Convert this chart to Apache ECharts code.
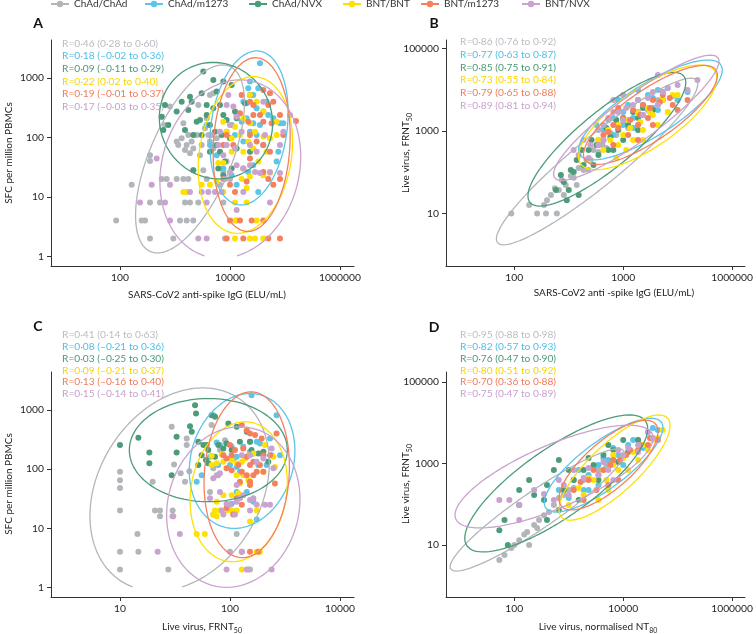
<!DOCTYPE html>
<html><head><meta charset="utf-8">
<script src="https://cdn.jsdelivr.net/npm/echarts@6/dist/echarts.min.js"></script>
<style>html,body{margin:0;padding:0;background:#fff}#c{width:756px;height:634px}</style>
</head><body><div id="c"></div>
<script>
const groups = ['ChAd/ChAd','ChAd/m1273','ChAd/NVX','BNT/BNT','BNT/m1273','BNT/NVX'];
const colors = ['#b2b6bb','#5cc5e8','#4c9c7a','#ffe100','#f5805e','#caa2cf'];
const textColors = ['#b9bdc2','#4fc0e6','#4c9a78','#f6d600','#f27b5c','#c7a3cc'];

// ---------- Panel A: IgG (x) vs SFC per million PBMCs (y)
const A_ChAdChAd = [[573,222],[658,161],[811,328],[1072,85],[1148,74],[1419,172],[1322,96],[1520,61],[1630,74],[1747,109],[1874,54],[2009,85],[2153,65],[2477,109],[2655,349],[2851,50],[3055,74],[3508,142],[3767,208],[4036,109],[4325,85],[4977,65],[5728,96],[3273,28],[2153,28],[1747,20],[1419,20],[1072,20],[705,20],[573,20],[351,50],[351,40],[163,16],[3767,20],[6577,16],[7568,26],[8690,39],[10000,20],[85,4],[248,4],[285,4],[351,8],[351,2],[533,8],[933,2],[1233,4],[1630,4],[2153,4],[1520,8],[1874,8],[2655,8],[7568,8],[8110,2],[13213,4],[4325,514],[4977,548]];
const A_ChAdm1273 = [[35100,1753],[23100,862],[21500,666],[26500,515],[32700,666],[17500,397],[30500,307],[40300,270],[49700,237],[61300,208],[81100,172],[13200,237],[16300,183],[20100,208],[26500,172],[35100,161],[23100,124],[10700,161],[8690,124],[12300,109],[17500,85],[30500,109],[40300,74],[75700,57],[26500,34],[21500,26],[32700,12],[13200,16],[10700,23],[7570,30],[5730,50],[4330,74],[3770,161],[70500,39],[93300,172],[46400,397],[20100,373]];
const A_ChAdNVX = [[658,349],[614,133],[757,161],[1072,270],[1747,288],[2009,397],[1874,482],[3273,1270],[4977,920],[5728,586],[7568,862],[10720,758],[3767,349],[2851,196],[2477,183],[2153,109],[1520,133],[3055,109],[4325,161],[4977,307],[6577,349],[7568,237],[8690,196],[12330,270],[10000,96],[5728,74],[6577,57],[8110,39],[4325,57],[2153,28],[6137,30],[7568,23],[10720,30],[13210,208],[18730,373],[23100,515],[573,222],[1322,397],[3055,549],[3767,237],[5333,124],[7050,109],[13210,65],[23100,57]];
const A_BNTBNT = [[23100,514],[30540,397],[40360,270],[17470,208],[12330,151],[7568,183],[8690,124],[10720,96],[15200,109],[21540,85],[28500,124],[40360,103],[53330,96],[70460,109],[17470,57],[26540,65],[32740,39],[46420,57],[6140,37],[7568,37],[16300,20],[23100,22],[40360,23],[3055,16],[4325,16],[1419,12],[1630,12],[12330,8],[20090,8],[12330,4],[30540,4],[12330,2],[23100,2],[28500,2],[40360,2],[5728,18],[7568,12],[20090,14],[53330,25],[10720,57],[70460,183],[23100,172]];
const A_BNTm1273 = [[40360,625],[53330,549],[61380,397],[49740,349],[35100,237],[26570,237],[21540,183],[40360,183],[57240,172],[81140,237],[158500,188],[23100,109],[30540,85],[40360,74],[8690,109],[7568,74],[11510,74],[23100,44],[53330,57],[17470,30],[40360,26],[49740,20],[81140,20],[61380,16],[10000,16],[12330,12],[20090,18],[7568,20],[10000,4],[15200,4],[24770,4],[40360,4],[8690,2],[17470,2],[49740,2],[81140,2],[26570,349],[15200,253],[93300,109],[23100,397],[16300,514]];
const A_BNTNVX = [[464,44],[377,16],[658,8],[231,8],[811,4],[2655,2],[3767,2],[3767,8],[4036,12],[5333,12],[7050,12],[3055,12],[8110,20],[10000,26],[13210,34],[17470,30],[23100,34],[28500,26],[35100,25],[53330,26],[81140,25],[123300,237],[93300,124],[8690,349],[11510,328],[13210,222],[10000,161],[16300,124],[8690,74],[12330,65],[23100,74],[30540,57],[43250,109],[6577,124],[7568,50],[6137,74],[4640,109],[9330,514],[40360,397],[17470,12],[53330,8],[13210,6],[811,16],[1874,12],[81140,74]];

// ---------- Panel B: IgG (x) vs FRNT50 (y)
const B_ChAdChAd = [[88,10],[262,10],[382,10],[605,10],[398,21],[556,41],[746,65],[1090,81],[1520,127],[2120,198],[2850,346],[4150,458],[5800,895],[10000,1560],[18700,2890],[43300,5650],[187,16],[811,28],[351,16],[471,28],[658,37],[881,49],[1233,73],[1875,114],[2512,198],[3510,310],[4910,387],[7470,800],[12300,1180],[28500,3230],[1400,49],[2310,114]];
const B_ChAdm1273 = [[5330,1850],[8110,3230],[12300,4270],[18700,5650],[28500,7460],[43300,9860],[65800,11000],[100000,5650],[23100,2440],[10000,1400],[6580,800],[15200,1180],[35100,3610],[152000,8810],[3230,1400],[4330,1060],[6580,2070],[10000,2890],[15200,2070],[23100,4270],[35100,6310],[53300,8810],[81100,7050],[43300,3230],[18700,9860],[3510,605],[8110,5650]];
const B_ChAdNVX = [[580,37],[811,58],[1090,114],[1400,198],[1870,150],[2310,346],[3230,458],[4330,605],[5800,716],[8110,1060],[12300,1400],[18700,2070],[35100,3230],[1520,28],[920,21],[3510,262],[6580,346],[716,86],[1233,101],[1720,346],[2620,605],[4910,1180],[7470,1850],[10000,2070],[15200,2890],[23100,3610],[53300,5650],[2850,150],[5330,346],[1000,37],[10000,605],[18700,1060]];
const B_BNTBNT = [[3510,605],[5330,1060],[8110,1400],[12300,1850],[18700,2730],[28500,3610],[53300,5650],[81100,7460],[23100,1060],[43300,1400],[8110,458],[15200,605],[35100,2440],[7460,221],[4330,346],[5800,605],[10000,800],[13400,1180],[20400,1650],[31000,2890],[43300,4270],[65800,2890],[11350,346],[23100,605],[2310,198],[100000,7460]];
const B_BNTm1273 = [[4330,800],[6580,1400],[10000,2070],[15200,3230],[23100,4270],[35100,5650],[53300,7460],[18700,1400],[28500,2070],[81100,4270],[12300,800],[152000,5650],[8110,3610],[3510,458],[5330,946],[8110,1180],[13400,1850],[20400,2440],[31000,3610],[47100,5050],[71600,6310],[35100,1400],[6580,458],[100000,3230],[18700,605]];
const B_BNTNVX = [[1230,346],[1870,605],[3510,1060],[5330,2070],[8110,2890],[15200,4270],[28500,6310],[53300,8810],[100000,13000],[3510,458],[2310,221],[43300,22800],[152000,9860],[6580,5650],[10000,7460],[1520,262],[2510,458],[4330,1400],[6580,2890],[11350,3610],[18700,5650],[35100,8810],[65800,11000],[4330,605],[10000,1850],[23100,2440],[43300,4270],[231000,17200]];

// ---------- Panel C: FRNT50 (x) vs SFC per million PBMCs (y)
const C_ChAdChAd = [[10,90],[10,65],[10,48],[10,20],[10,4],[10,2],[14.4,8],[14.7,4],[19.8,61],[20.8,20],[23.1,20],[23.1,16],[27.5,2],[29.5,519],[30.1,20],[30,16],[31,120],[35.6,85],[39,61],[40.4,330],[42.7,92],[65.8,41],[70.5,103],[75.7,79],[81.1,210],[90.1,309],[115,8],[147,2],[152,2],[68,555],[40.4,255]];
const C_ChAdm1273 = [[157,1782],[265,818],[70.5,818],[75.7,282],[81.1,255],[93,272],[103.5,238],[107,151],[115,162],[132,238],[152,290],[175,290],[187,272],[201,172],[231,330],[239,172],[285,172],[152,196],[163,184],[115,109],[65.8,162],[55.2,79],[49.8,61],[115,41],[142,41],[163,28],[70.5,17],[175,14],[103.5,26],[78,117],[100,117],[215,117],[181,117],[123,90],[87,172]];
const C_ChAdNVX = [[10,255],[14.7,339],[18.5,191],[18.5,125],[32.7,191],[32.7,352],[29.5,79],[43.3,533],[48.1,1207],[49.1,873],[44.9,428],[51.5,290],[57.3,255],[61.4,255],[55.2,172],[60.5,142],[63.5,125],[68.1,818],[73.1,767],[78.3,255],[96.6,591],[103.5,210],[115,519],[142,428],[152,290],[157,210],[201,196],[223,133],[181,184],[123,290],[93,272],[87,223],[73,162],[63.5,210],[51.5,117]];
const C_BNTBNT = [[84,177],[68,168],[68,117],[75.7,125],[87,133],[103.5,142],[115,125],[128,133],[137,151],[147,172],[163,184],[208,255],[248,162],[256,109],[152,61],[147,65],[123,57],[119,39],[103.5,36],[87,36],[75.7,28],[73,20],[81,20],[93,20],[103.5,20],[115,20],[70.5,17],[75.7,16],[152,13],[49.8,8],[59,8],[128,2],[175,4],[187,4],[175,20],[201,90],[132,79],[115,79]];
const C_BNTm1273 = [[128,555],[142,456],[152,401],[169,376],[194,330],[265,401],[100,255],[103.5,172],[111,210],[119,117],[128,90],[142,79],[152,117],[163,133],[175,90],[187,117],[201,90],[231,172],[132,223],[87,172],[93,103],[103.5,96],[123,61],[152,61],[163,79],[256,57],[152,54],[115,32],[128,25],[93,22],[107,17],[128,4],[152,4],[181,4],[201,172],[142,162],[93,151]];
const C_BNTNVX = [[70.5,70],[78,79],[81,85],[93,26],[84,20],[100,25],[115,28],[123,32],[132,36],[152,30],[163,32],[175,25],[208,25],[231,25],[152,20],[87,17],[111,17],[115,54],[128,172],[152,172],[175,133],[201,151],[239,223],[248,103],[35,8],[22,4],[30.5,16],[100,4],[128,4],[93,2],[239,2],[142,2],[81,41],[65.8,32]];

// ---------- Panel D: normalised NT80 (x) vs FRNT50 (y)
const D_ChAdChAd = [[66,5.7],[88,8.4],[123,13],[172,21],[231,31],[351,54],[533,96],[658,142],[1000,224],[1875,394],[3510,692],[6580,1220],[8110,1090],[187,10],[285,41],[53,4.3],[100,10],[152,18],[262,26],[433,65],[811,169],[1233,251],[2310,441],[4910,918]];
const D_ChAdm1273 = [[658,224],[1233,394],[2310,523],[3510,918],[5330,1220],[8110,1620],[12330,2850],[18750,3780],[28500,5930],[43300,6640],[3510,297],[1875,224],[10000,918],[1000,142],[1520,692],[2851,776],[4330,1365],[6580,2400],[15200,3780],[23100,2400],[35100,7430],[2310,224]];
const D_ChAdNVX = [[66,41],[123,224],[187,394],[351,127],[533,692],[811,224],[1233,394],[1875,692],[2851,918],[4330,1620],[6580,2140],[10000,3780],[18750,3780],[3510,394],[658,72],[1520,127],[76,10],[123,96],[231,169],[398,297],[658,1220],[1000,692],[2310,1365],[5330,2845],[8110,1090],[12300,1915],[398,41],[53,23]];
const D_BNTBNT = [[1520,251],[2851,394],[4330,692],[6580,918],[10000,1365],[15200,1915],[23100,2845],[35100,3780],[53300,6640],[5330,224],[12330,692],[3510,127],[1000,96],[2310,441],[4910,394],[8110,692],[18750,1220],[28500,2140],[43300,4230],[6580,1620],[1875,169]];
const D_BNTm1273 = [[1233,224],[2310,394],[3510,523],[5800,918],[8810,1220],[13400,2140],[20400,2845],[31000,4230],[8110,394],[3230,224],[1875,127],[43300,3780],[1650,352],[4330,692],[6580,1220],[11350,1620],[18750,2140],[28500,2845],[5330,297],[2851,692]];
const D_BNTNVX = [[53,127],[123,96],[351,178],[658,394],[1233,692],[2310,776],[3510,523],[5330,692],[10000,1620],[18750,2845],[35100,4230],[123,41],[533,127],[6580,394],[12330,2400],[81,127],[231,224],[811,297],[1875,441],[4330,1090],[8110,2140],[18750,1915],[28500,5930],[1000,169]];

// ---------- 95% ellipses: [centre log10 x, centre log10 y, half-width log10 x, half-height log10 y, shape correlation]
const ellA = [[3.273,1.636,0.99,1.58,0.6],[4.345,2.157,0.712,1.294,0.2],[3.745,2.28,1.03,0.978,-0.05],[4.28,1.703,0.858,1.317,0.17],[4.394,1.877,0.70,1.46,0.1],[4.006,1.465,1.28,1.499,0.14]];
const ellB = [[3.52,2.26,1.85,2.02,0.93],[4.5,3.51,1.32,1.21,0.8],[3.7,2.8,1.45,1.62,0.85],[4.45,3.33,1.27,1.27,0.75],[4.5,3.39,1.23,1.2,0.8],[4.24,3.32,1.52,1.52,0.9]];
const ellC = [[1.542,1.654,0.815,1.72,0.26],[2.11,2.138,0.48,1.141,0.15],[1.803,2.321,0.718,0.873,0.0],[2.079,1.617,0.442,1.183,0.13],[2.152,1.904,0.388,1.403,0.1],[2.03,1.358,0.606,1.358,0.1]];
const ellD = [[2.42,1.86,1.6,1.5,0.93],[3.64,2.96,1.09,1.15,0.8],[2.77,2.51,1.68,1.68,0.8],[3.84,2.9,1.02,1.29,0.8],[3.73,2.96,0.91,1.1,0.75],[2.73,2.68,1.82,1.26,0.75]];

// ---------- annotations
const rA = ['R=0·46 (0·28 to 0·60)','R=0·18 (–0·02 to 0·36)','R=0·09 (–0·11 to 0·29)','R=0·22 (0·02 to 0·40)','R=0·19 (–0·01 to 0·37)','R=0·17 (–0·03 to 0·35)'];
const rB = ['R=0·86 (0·76 to 0·92)','R=0·77 (0·63 to 0·87)','R=0·85 (0·75 to 0·91)','R=0·73 (0·55 to 0·84)','R=0·79 (0·65 to 0·88)','R=0·89 (0·81 to 0·94)'];
const rC = ['R=0·41 (0·14 to 0·63)','R=0·08 (–0·21 to 0·36)','R=0·03 (–0·25 to 0·30)','R=0·09 (–0·21 to 0·37)','R=0·13 (–0·16 to 0·40)','R=0·15 (–0·14 to 0·41)'];
const rD = ['R=0·95 (0·88 to 0·98)','R=0·82 (0·57 to 0·93)','R=0·76 (0·47 to 0·90)','R=0·80 (0·51 to 0·92)','R=0·70 (0·36 to 0·88)','R=0·75 (0·47 to 0·89)'];

// ---------- ticks
const tickA_x = [100,10000,1000000], labA_x = ['100','10000','1000000'];
const tickA_y = [1,10,100,1000], labA_y = ['1','10','100','1000'];
const tickB_x = [100,10000,1000000], labB_x = ['100','1000','1000000'];
const tickB_y = [10,1000,100000], labB_y = ['10','1000','100000'];
const tickC_x = [10,100,1000], labC_x = ['10','100','10000'];
const tickC_y = [1,10,100,1000], labC_y = ['1','10','100','1000'];
const tickD_x = [100,10000,1000000], labD_x = ['100','10000','1000000'];
const tickD_y = [10,1000,100000], labD_y = ['10','1000','100000'];

const FONT = 'Lato';
const panels = [
  {data:[A_ChAdChAd,A_ChAdm1273,A_ChAdNVX,A_BNTBNT,A_BNTm1273,A_BNTNVX], ell:ellA, clip:0,
   grid:{left:51,top:40,width:303,height:226}, x:[5.56,1.8e6,tickA_x,labA_x], y:[0.687,4315,tickA_y,labA_y]},
  {data:[B_ChAdChAd,B_ChAdm1273,B_ChAdNVX,B_BNTBNT,B_BNTm1273,B_BNTNVX], ell:ellB, clip:-99,
   grid:{left:446,top:40,width:302,height:226}, x:[5.56,1.72e6,tickB_x,labB_x], y:[0.533,160700,tickB_y,labB_y]},
  {data:[C_ChAdChAd,C_ChAdm1273,C_ChAdNVX,C_BNTBNT,C_BNTm1273,C_BNTNVX], ell:ellC, clip:0,
   grid:{left:51,top:372,width:303,height:225}, x:[2.36,1340,tickC_x,labC_x], y:[0.685,4395,tickC_y,labC_y]},
  {data:[D_ChAdChAd,D_ChAdm1273,D_ChAdNVX,D_BNTBNT,D_BNTm1273,D_BNTNVX], ell:ellD, clip:-99,
   grid:{left:446,top:372,width:302,height:225}, x:[5.56,1.72e6,tickD_x,labD_x], y:[0.53,175800,tickD_y,labD_y]}
];

function ellipse(p, clip){
  const [cx,cy,wx,wy,r] = p;
  const s = Math.sqrt(1-r*r);
  const phi = Math.atan2(r, s);
  const t0 = -Math.PI/2 - phi;
  const pts = [];
  for (let i=0;i<=240;i++){
    const t = t0 + i*2*Math.PI/240;
    const lx = cx + wx*Math.cos(t);
    const ly = cy + wy*(r*Math.cos(t) + s*Math.sin(t));
    if (ly >= clip) pts.push([Math.pow(10,lx), Math.pow(10,ly)]);
  }
  return pts;
}
function fmt(vals, labs){
  return function(v){
    for (let i=0;i<vals.length;i++) if (Math.abs(Math.log10(v)-Math.log10(vals[i]))<1e-6) return labs[i];
    return '';
  };
}
function axis(i, a){
  return {type:'log', logBase:10, gridIndex:i, min:a[0], max:a[1],
    axisLine:{show:true, onZero:false, lineStyle:{color:'#333',width:1}},
    axisTick:{show:true, customValues:a[2], length:4, lineStyle:{color:'#333',width:1}},
    minorTick:{show:false}, splitLine:{show:false},
    axisLabel:{customValues:a[2], formatter:fmt(a[2],a[3]), fontSize:10.3, color:'#222', margin:7, fontFamily:FONT}};
}

const grid=[], xAxis=[], yAxis=[], series=[];
groups.forEach((g,k)=>{
  series.push({type:'line', name:g, data:[], symbol:'circle', symbolSize:6, xAxisIndex:0, yAxisIndex:0,
    lineStyle:{color:colors[k],width:1.5}, itemStyle:{color:colors[k]}});
});
panels.forEach((p,i)=>{
  grid.push(p.grid);
  xAxis.push(axis(i,p.x));
  yAxis.push(axis(i,p.y));
  p.data.forEach((d,k)=>{
    series.push({type:'scatter', name:groups[k], xAxisIndex:i, yAxisIndex:i, data:d, symbolSize:6,
      itemStyle:{color:colors[k], opacity:1}, z:2, silent:true});
  });
  p.ell.forEach((e,k)=>{
    series.push({type:'line', name:groups[k], xAxisIndex:i, yAxisIndex:i, data:ellipse(e,p.clip),
      showSymbol:false, symbol:'none', lineStyle:{color:colors[k],width:1.3}, z:3, silent:true});
  });
});

const legLeft = [50,144,248,342,420,521];
const legend = groups.map((g,k)=>({data:[g], left:legLeft[k], top:-1, padding:0, itemWidth:18, itemHeight:8,
  selectedMode:false, textStyle:{fontSize:10, color:'#333', fontFamily:FONT}}));

const graphic = [];
function txt(x,y,text,fill,font,extra){
  graphic.push(Object.assign({type:'text', x:x, y:y, silent:true,
    style:{text:text, fill:fill, font:font, textAlign:'left', textVerticalAlign:'middle'}}, extra||{}));
}
[['A',38,23],['B',434,23],['C',38,326],['D',434,327]].forEach(l=>{
  graphic.push({type:'text', x:l[1], y:l[2], silent:true, style:{text:l[0], fill:'#111', font:'bold 14px '+FONT, textAlign:'center', textVerticalAlign:'middle'}});
});
const annoPos = [[62,43.3,12.7,rA],[460,42,12.7,rB],[62,335,11.8,rC],[460,335,11.8,rD]];
annoPos.forEach(a=>{
  a[3].forEach((t,k)=>txt(a[0], a[1]+k*a[2], t, textColors[k], '10.2px '+FONT));
});
const sub = {s:{fontSize:7, fontFamily:FONT, fill:'#222', verticalAlign:'bottom', lineHeight:14}};
function title(x,y,text,rot){
  graphic.push({type:'text', x:x, y:y, rotation:rot||0, silent:true,
    style:{text:text, fill:'#222', fontSize:10, fontFamily:FONT, lineHeight:14, textAlign:'center', textVerticalAlign:'middle', rich:sub}});
}
title(207,295,'SARS-CoV2 anti-spike IgG (ELU/mL)');
title(614,293,'SARS-CoV2 anti -spike IgG (ELU/mL)');
title(202,627,'Live virus, FRNT{s|50}');
title(598,627,'Live virus, normalised NT{s|80}');
title(9,153,'SFC per million PBMCs',Math.PI/2);
title(406,153,'Live virus, FRNT{s|50}',Math.PI/2);
title(9,484,'SFC per million PBMCs',Math.PI/2);
title(406,484,'Live virus, FRNT{s|50}',Math.PI/2);

const chart = echarts.init(document.getElementById('c'), null, {renderer:'canvas'});
chart.setOption({animation:false, backgroundColor:'#fff', grid, xAxis, yAxis, series, legend, graphic});
</script></body></html>
